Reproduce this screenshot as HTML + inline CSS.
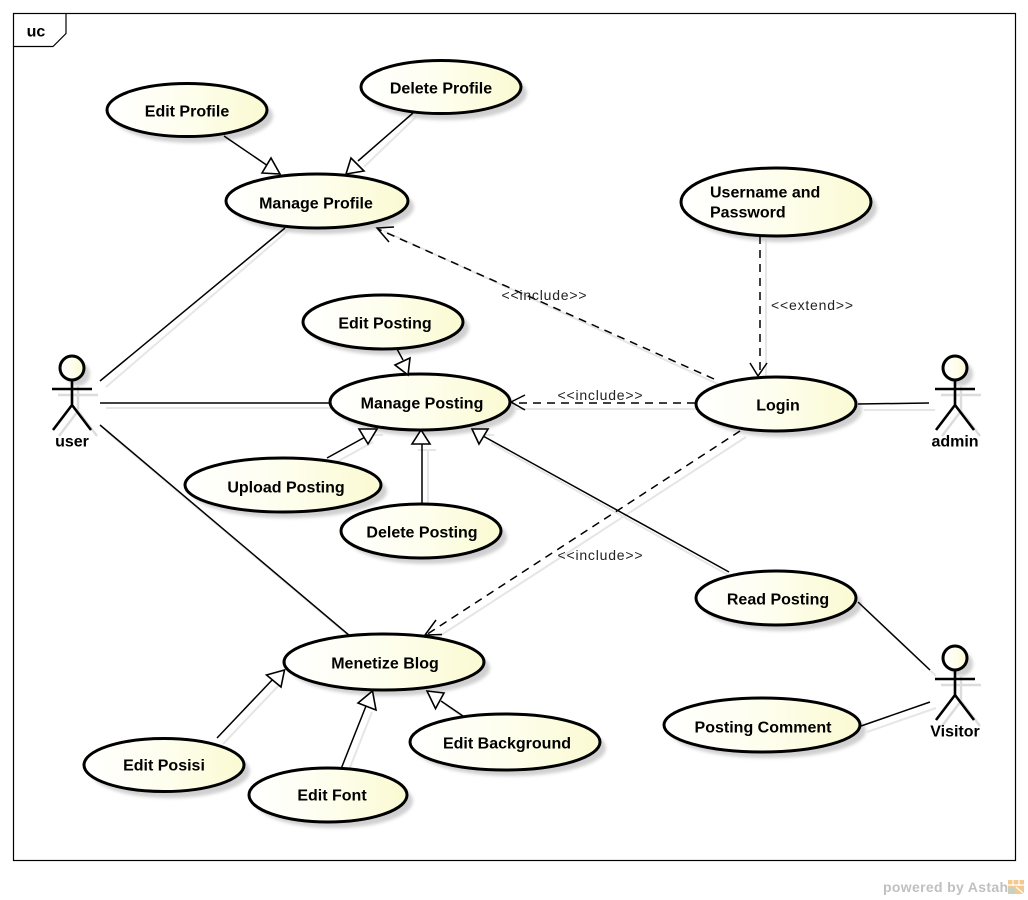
<!DOCTYPE html>
<html><head><meta charset="utf-8"><style>
html,body{margin:0;padding:0;background:#fff}
svg{display:block}
text{font-family:"Liberation Sans",Arial,sans-serif;fill:#000}
.t{font-size:16px;font-weight:bold;text-anchor:middle;dominant-baseline:central}
.l{font-size:14px;text-anchor:middle;dominant-baseline:central;fill:#222}
.u{fill:url(#g);stroke:#000;stroke-width:3}
.s{fill:#d0d0d0;filter:url(#b)}
.c{stroke:#000;stroke-width:1.5;fill:none}
.d{stroke:#000;stroke-width:1.5;fill:none;stroke-dasharray:8 6}
.h{stroke:#e6e6e6;stroke-width:2;fill:none}
.tri{fill:#fff;stroke:#000;stroke-width:1.6}
.a{stroke:#000;stroke-width:2.6;fill:none}
.as{stroke:#dcdcdc;stroke-width:2.4;fill:none}
</style></head><body>
<svg width="1028" height="900" viewBox="0 0 1028 900" xmlns="http://www.w3.org/2000/svg">
<defs>
<linearGradient id="g" x1="0" x2="1" y1="0" y2="0"><stop offset="0" stop-color="#fff"/><stop offset="0.5" stop-color="#fefeee"/><stop offset="1" stop-color="#fafad2"/></linearGradient>
<filter id="b" x="-20%" y="-20%" width="140%" height="140%"><feGaussianBlur stdDeviation="1.5"/></filter>
<g id="actor"><circle cx="0" cy="0" r="12" class="u"/><path class="a" d="M0 12V37M-20 21H20M0 37L-19 62M0 37L19 62"/></g>
<g id="actorS"><circle cx="6" cy="6" r="12" fill="#d0d0d0" filter="url(#b)"/><path class="as" d="M6 18V43M-14 27H26M6 43L-13 68M6 43L25 68"/></g>
</defs>
<rect width="1028" height="900" fill="#fff"/>
<rect x="13.5" y="13.5" width="1002" height="847" fill="#fff" stroke="#000" stroke-width="1.2"/>
<path d="M13.5 46.500H53L66 33.500V13.5" fill="#fff" stroke="#000" stroke-width="1.2"/>
<text x="36" y="32" class="t">uc</text>

<!-- connector shadows -->
<g class="h">
<path d="M420 113L364 167M291 228L106 387M720 385L384 231M766 236V378M106 408H331M333 464L373 442M428 510V450M739 581L491 443M106 431L356 642M701 409H516M746 437L432 641M864 410H935M864 608L936 676M867 732L936 708M223 744L280 684M347 775L372 712M469 722L446 705M268 180H286M352 180H370M414 380H428M366 435H383M418 450H436M478 435H494"/>
</g>

<!-- ellipse shadows -->
<ellipse class="s" cx="193" cy="116" rx="80" ry="27"/>
<ellipse class="s" cx="447" cy="93" rx="80" ry="27"/>
<ellipse class="s" cx="323" cy="207" rx="91" ry="27"/>
<ellipse class="s" cx="782" cy="208" rx="95" ry="34"/>
<ellipse class="s" cx="389" cy="328" rx="80" ry="27"/>
<ellipse class="s" cx="426" cy="408" rx="90" ry="28"/>
<ellipse class="s" cx="782" cy="410" rx="80" ry="27"/>
<ellipse class="s" cx="289" cy="491" rx="98" ry="27"/>
<ellipse class="s" cx="427" cy="537" rx="80" ry="27"/>
<ellipse class="s" cx="782" cy="604" rx="80" ry="27"/>
<ellipse class="s" cx="390" cy="668" rx="100" ry="28"/>
<ellipse class="s" cx="768" cy="731" rx="98" ry="27"/>
<ellipse class="s" cx="511" cy="748" rx="95" ry="28"/>
<ellipse class="s" cx="170" cy="771" rx="80" ry="27"/>
<ellipse class="s" cx="334" cy="801" rx="79" ry="27"/>

<!-- connectors -->
<path class="c" d="M224 136L268 166M413 113L358 161M285 228L100 381M100 403H331M397 349L403 360M327 458L367 436M422 504V444M729 572L483 436M100 425L350 636M858 404L929 403M858 602L930 670M861 726L930 702M217 738L274 678M341 769L366 706M463 716L441 701"/>
<path class="d" d="M714 379L378 229M760 236V375M695 403H512M740 431L426 635"/>

<!-- ellipses -->
<ellipse class="u" cx="187" cy="110" rx="80" ry="26.5"/>
<ellipse class="u" cx="441" cy="87" rx="80" ry="26.5"/>
<ellipse class="u" cx="317" cy="201" rx="91" ry="27"/>
<ellipse class="u" cx="776" cy="202" rx="95" ry="34"/>
<ellipse class="u" cx="383" cy="322" rx="80" ry="27"/>
<ellipse class="u" cx="420" cy="402" rx="90" ry="28"/>
<ellipse class="u" cx="776" cy="404" rx="80" ry="27"/>
<ellipse class="u" cx="283" cy="485" rx="98" ry="27"/>
<ellipse class="u" cx="421" cy="531" rx="80" ry="27"/>
<ellipse class="u" cx="776" cy="598" rx="80" ry="27"/>
<ellipse class="u" cx="384" cy="662" rx="100" ry="28"/>
<ellipse class="u" cx="762" cy="725" rx="98" ry="27"/>
<ellipse class="u" cx="505" cy="742" rx="95" ry="28"/>
<ellipse class="u" cx="164" cy="765" rx="80" ry="26.5"/>
<ellipse class="u" cx="328" cy="795" rx="79" ry="27"/>

<!-- arrowheads -->
<polygon class="tri" points="262,173 280,174 271,158"/>
<polygon class="tri" points="346,174 364,171 351,158"/>
<polygon class="tri" points="395,365 410,358 408,375"/>
<polygon class="tri" points="359,429 377,429 368,444"/>
<polygon class="tri" points="412,444 430,444 421,430"/>
<polygon class="tri" points="472,429 488,429 479,444"/>
<polygon class="tri" points="266.5,675 284.5,670 281,687"/>
<polygon class="tri" points="358,703 372.5,691 376,710"/>
<polygon class="tri" points="427,691 444,693 435.5,708.6"/>
<path class="c" d="M394 227L377 228L389 242M750 363L758 376L767 363M525 395L511 402L525 410M442 634.500L425 635L436 620"/>

<!-- actors -->
<use href="#actorS" x="72" y="368"/><use href="#actor" x="72" y="368"/>
<use href="#actorS" x="955" y="368"/><use href="#actor" x="955" y="368"/>
<use href="#actorS" x="955" y="658"/><use href="#actor" x="955" y="658"/>

<!-- labels -->
<g transform="translate(0,2)">
<text class="t" x="187" y="110">Edit Profile</text>
<text class="t" x="441" y="87">Delete Profile</text>
<text class="t" x="316" y="202">Manage Profile</text>
<text class="t" x="710" y="191" style="text-anchor:start">Username and</text>
<text class="t" x="710" y="211" style="text-anchor:start">Password</text>
<text class="t" x="385" y="322">Edit Posting</text>
<text class="t" x="422" y="402">Manage Posting</text>
<text class="t" x="778" y="404">Login</text>
<text class="t" x="286" y="486">Upload Posting</text>
<text class="t" x="422" y="531">Delete Posting</text>
<text class="t" x="778" y="598">Read Posting</text>
<text class="t" x="385" y="662">Menetize Blog</text>
<text class="t" x="763" y="726">Posting Comment</text>
<text class="t" x="507" y="742">Edit Background</text>
<text class="t" x="164" y="764">Edit Posisi</text>
<text class="t" x="332" y="794">Edit Font</text>
<text class="t" x="72" y="440">user</text>
<text class="t" x="955" y="440">admin</text>
<text class="t" x="955" y="730">Visitor</text>
<text class="l" x="544" y="293" textLength="85">&lt;&lt;include&gt;&gt;</text>
<text class="l" x="812" y="303" textLength="82">&lt;&lt;extend&gt;&gt;</text>
<text class="l" x="600" y="393" textLength="85">&lt;&lt;include&gt;&gt;</text>
<text class="l" x="600" y="553" textLength="85">&lt;&lt;include&gt;&gt;</text>
</g>

<!-- footer -->
<text x="883" y="892" style="font-size:14px;font-weight:bold;fill:#c0c0c0" textLength="125">powered by Astah</text>
<rect x="1008" y="880" width="16" height="14" fill="#f3c98f"/>
<path d="M1008 885H1024M1013 880V886M1019 880V886M1016 887L1024 894" stroke="#fff" stroke-width="1.200"/>
<rect x="1008" y="887" width="7" height="7" fill="#c8d0c0"/>
</svg>
</body></html>
